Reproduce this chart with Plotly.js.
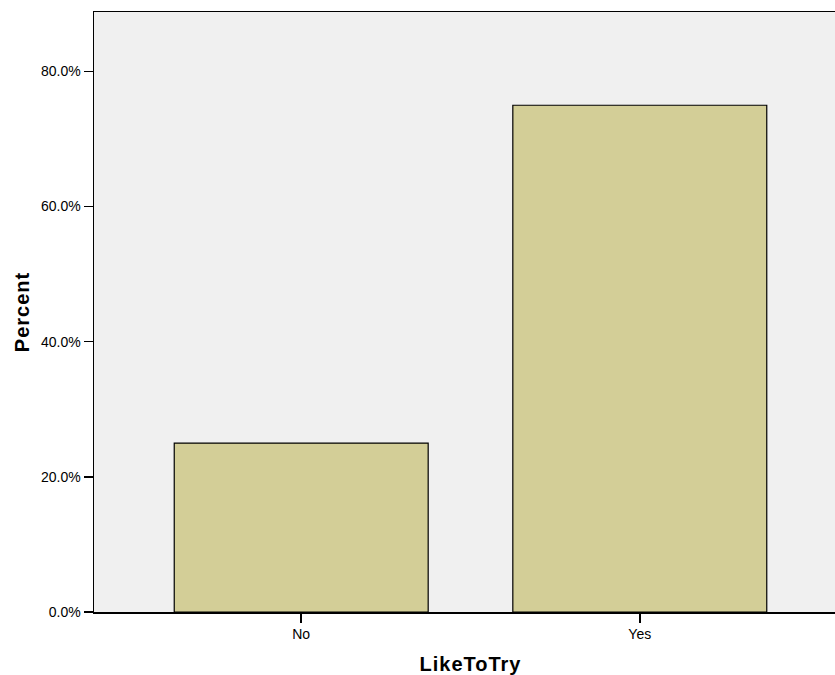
<!DOCTYPE html>
<html>
<head>
<meta charset="utf-8">
<script src="https://cdn.plot.ly/plotly-3.0.1.min.js"></script>
<style>
html, body { margin: 0; padding: 0; overflow: hidden; background: #fff; }
#chart { width: 900px; height: 675px; }
.xtitle, .ytitle { letter-spacing: 1px; }
</style>
</head>
<body>
<div id="chart"></div>
<script>
const categories = ["No", "Yes"];
const percents = [25.0, 75.0];
const yTicks = [0, 20, 40, 60, 80];

const trace = {
  type: "bar",
  x: categories,
  y: percents,
  width: 0.75,
  marker: { color: "#D3CE97", line: { color: "#000000", width: 1.2 } },
  hoverinfo: "none"
};

const layout = {
  width: 900,
  height: 675,
  margin: { l: 94, r: 53, t: 12, b: 63 },
  paper_bgcolor: "#ffffff",
  plot_bgcolor: "#F0F0F0",
  showlegend: false,
  font: { family: "Liberation Sans, Arial, sans-serif", color: "#000000", size: 14 },
  xaxis: {
    type: "category",
    range: [-0.612, 1.612],
    showline: true, linecolor: "#000000", linewidth: 1.5, mirror: true,
    ticks: "outside", ticklen: 9, tickwidth: 1.5, tickcolor: "#000000",
    showgrid: false, zeroline: false,
    tickfont: { size: 14 },
    title: { text: "<b>LikeToTry</b>", font: { size: 20 }, standoff: 16 }
  },
  yaxis: {
    range: [0, 88.8],
    tickvals: yTicks,
    ticktext: yTicks.map(v => v.toFixed(1) + "%"),
    showline: true, linecolor: "#000000", linewidth: 1.5, mirror: true,
    ticks: "outside", ticklen: 9, tickwidth: 1.5, tickcolor: "#000000",
    showgrid: false, zeroline: false,
    tickfont: { size: 14 },
    title: { text: "<b>Percent</b>", font: { size: 20 }, standoff: 6 }
  }
};

Plotly.newPlot("chart", [trace], layout, { displayModeBar: false, staticPlot: true });
</script>
</body>
</html>
